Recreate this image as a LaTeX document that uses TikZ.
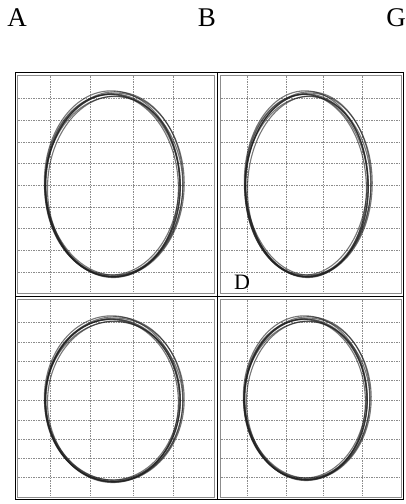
\documentclass[tikz,border=0pt]{standalone}
\usepackage{fontspec}
\setmainfont{Liberation Serif}
\usepackage{tikz}
\usetikzlibrary{positioning}
\definecolor{gridgray}{RGB}{140,140,140}
\definecolor{tracegray}{RGB}{30,30,30}
\tikzset{
  frameline/.style={draw=black,line width=0.9pt},
  panelline/.style={draw=gridgray,line width=0.8pt},
  gridline/.style={draw=gridgray,line width=0.55pt,dash pattern=on 1.6pt off 0.9pt},
  traceline/.style={draw=tracegray,line width=1.1pt,opacity=0.6},
  letterlab/.style={font=\fontsize{27}{27}\selectfont,inner sep=0pt},
  panellab/.style={font=\fontsize{22}{22}\selectfont,inner sep=0pt}
}

\begin{document}
\begin{tikzpicture}[x=1pt,y=-1pt]
    \useasboundingbox (0,0) rectangle (405,504);
    \fill[white] (0,0) rectangle (405,504);

    % panel borders
    \draw[panelline] (17,75) rectangle (214,293);
    \draw[panelline] (220,75) rectangle (401,293);
    \draw[panelline] (17,299) rectangle (214,497);
    \draw[panelline] (220,299) rectangle (401,497);

    % grid
    \foreach \gx in {50,90,133,173} {
      \draw[gridline] (\gx,76) -- (\gx,292);
      \draw[gridline] (\gx,300) -- (\gx,496);
    }
    \foreach \gx in {247,286,323,362} {
      \draw[gridline] (\gx,76) -- (\gx,292);
      \draw[gridline] (\gx,300) -- (\gx,496);
    }
    \foreach \gy in {98,120,142,163,185,207,228,250,272} {
      \draw[gridline] (18,\gy) -- (213,\gy);
      \draw[gridline] (221,\gy) -- (400,\gy);
    }
    \foreach \gy in {322,342,361,380,400,420,439,458,477} {
      \draw[gridline] (18,\gy) -- (213,\gy);
      \draw[gridline] (221,\gy) -- (400,\gy);
    }

    % traces
    \foreach \cx/\cy/\rx/\ry in {113/185/68/92, 307/185/62/92, 113/400/68/82, 306/399/62/81} {
      \foreach \ox/\oy/\sx/\sy/\rot in {0/0/-1/-1/0, 1.2/-0.8/0.8/0.5/-2, -1.2/1/-1.5/-0.5/2,
                                        0.8/1.5/1/-2/-1, -0.6/-1.2/0/1/1.5, 0.4/0.5/-2.2/-2.5/-3,
                                        1.6/0/1.6/0/-1.5, -0.3/-0.4/-0.5/-1.5/3} {
        \draw[traceline,rotate around={\rot:(\cx,\cy)}]
          (\cx+\ox,\cy+\oy) ellipse [x radius=\rx+\sx, y radius=\ry+\sy];
      }
    }

    % outer frame and dividers
    \draw[frameline] (15,72) rectangle (403,499);
    \draw[frameline] (217,72) -- (217,499);
    \draw[frameline] (15,296) -- (403,296);

    % labels
    \node[letterlab] (labA) at (17,18) {A};
    \node[letterlab] (labB) at (207,18) {B};
    \node[letterlab] (labG) at (396,18) {G};
    \node[panellab] (labD) at (242,282) {D};
\end{tikzpicture}
\end{document}
